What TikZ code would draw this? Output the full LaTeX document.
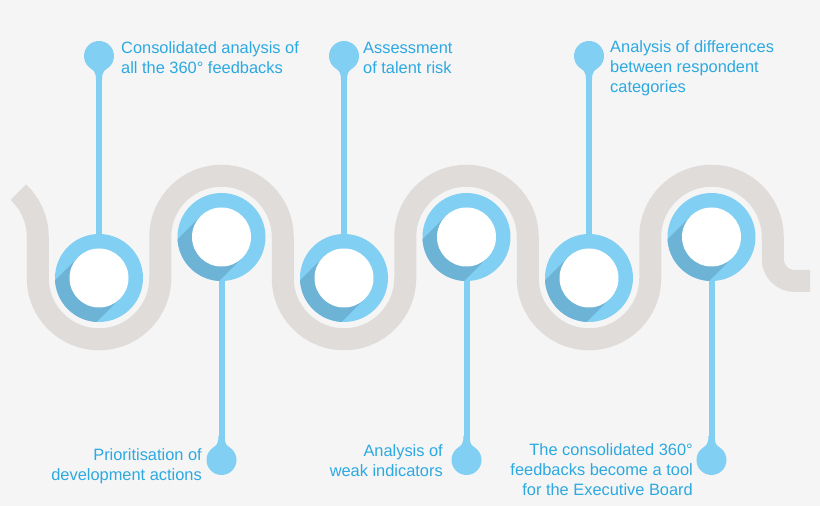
\documentclass[tikz,border=0pt]{standalone}
\usepackage{fontspec}
\setmainfont{Liberation Sans}
\definecolor{bgc}{HTML}{F5F5F5}
\definecolor{bandgrey}{HTML}{E0DCDA}
\definecolor{ringblue}{HTML}{82CFF4}
\definecolor{shadeblue}{HTML}{6DB3D6}
\definecolor{pinblue}{HTML}{82CFF4}
\definecolor{txtblue}{HTML}{2CA9E1}
\tikzset{
  ring/.style={circle, fill=ringblue, minimum size=88pt, inner sep=0pt},
  hole/.style={circle, fill=white, minimum size=59pt, inner sep=0pt},
  pinhead/.style={circle, fill=pinblue, minimum size=30pt, inner sep=0pt},
  stem/.style={draw=pinblue, line width=6pt},
  band/.style={draw=bandgrey, line width=22pt, line cap=butt},
  lbl/.style={text=txtblue, inner sep=0pt, font=\fontsize{16.4}{20}\selectfont},
}
\begin{document}
\begin{tikzpicture}[x=1pt,y=1pt]
\fill[bgc] (0,0) rectangle (820,506);
\useasboundingbox (0,0) rectangle (820,506);
% snake band
\draw[band] (-23.5,269) ++(47:61.25) arc[start angle=47, end angle=0, radius=61.25]
  -- (37.75,228) arc[start angle=180, end angle=360, radius=61.25]
  -- (160.25,269) arc[start angle=180, end angle=0, radius=61.25]
  -- (282.75,228) arc[start angle=180, end angle=360, radius=61.25]
  -- (405.25,269) arc[start angle=180, end angle=0, radius=61.25]
  -- (527.75,228) arc[start angle=180, end angle=360, radius=61.25]
  -- (650.25,269) arc[start angle=180, end angle=0, radius=61.25]
  -- (772.75,247) arc[start angle=180, end angle=270, radius=22]
  -- (810,225);
% pins
\node[pinhead] (p1) at (99,450) {};
\node[pinhead] (p3) at (344,450) {};
\node[pinhead] (p5) at (589,450) {};
\node[pinhead] (p2) at (221.5,46) {};
\node[pinhead] (p4) at (466.5,46) {};
\node[pinhead] (p6) at (711.5,46) {};
\foreach \p in {p1,p3,p5}{
  \fill[pinblue] (\p.center) ++(-7.5,-13) .. controls +(3.5,-2) and +(0,5) .. ++(4.5,-11)
    -- ++(6,0) .. controls +(0,5) and +(-3.5,-2) .. ++(4.5,11) -- cycle;
}
\foreach \p in {p2,p4,p6}{
  \fill[pinblue] (\p.center) ++(-7.5,13) .. controls +(3.5,2) and +(0,-5) .. ++(4.5,11)
    -- ++(6,0) .. controls +(0,-5) and +(-3.5,2) .. ++(4.5,-11) -- cycle;
}
% circles
\foreach \n/\x/\y in {c1/99/228, c2/221.5/269, c3/344/228, c4/466.5/269, c5/589/228, c6/711.5/269}{
  \node[ring] (\n) at (\x,\y) {};
  \begin{scope}
    \clip (\n.center) circle[radius=44];
    \fill[shadeblue] (\n.center) ++(135:29.5) -- ++(225:120) -- ++(-45:59) -- ++(45:120) -- cycle;
  \end{scope}
  \node[hole] at (\n.center) {};
}
% connectors
\draw[stem] (p1) -- (c1);
\draw[stem] (p3) -- (c3);
\draw[stem] (p5) -- (c5);
\draw[stem] (c2) -- (p2);
\draw[stem] (c4) -- (p4);
\draw[stem] (c6) -- (p6);
% labels
\node[lbl, anchor=west, align=left] (t1) at (121,448) {Consolidated analysis of\\all the 360° feedbacks};
\node[lbl, anchor=west, align=left] (t3) at (363,448) {Assessment\\of talent risk};
\node[lbl, anchor=west, align=left] (t5) at (610,438) {Analysis of differences\\between respondent\\categories};
\node[lbl, anchor=east, align=right] (t2) at (202,40) {Prioritisation of\\development actions};
\node[lbl, anchor=east, align=right] (t4) at (443,45) {Analysis of\\weak indicators};
\node[lbl, anchor=east, align=right] (t6) at (693,36) {The consolidated 360°\\feedbacks become a tool\\for the Executive Board};
\end{tikzpicture}
\end{document}
